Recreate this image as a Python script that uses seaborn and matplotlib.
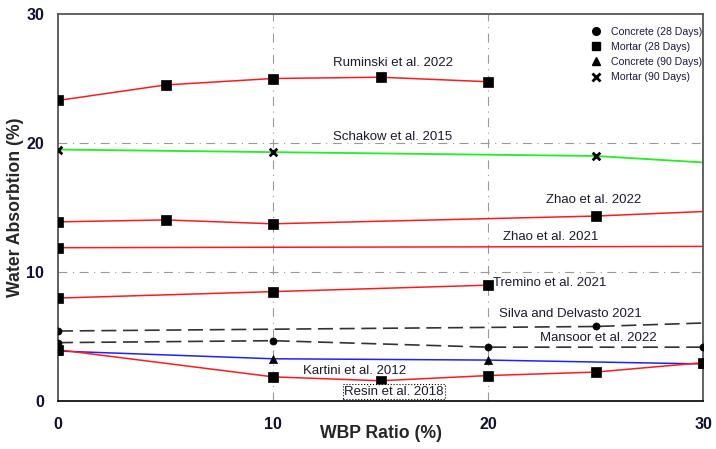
import numpy as np
import pandas as pd
import matplotlib.pyplot as plt
import seaborn as sns
from matplotlib.lines import Line2D

# data (x = WBP ratio %, y = water absorption %)

ruminski_x = [0, 5, 10, 15, 20]
ruminski_y = [23.3, 24.5, 25.0, 25.1, 24.75]

schakow_x = [0, 10, 25, 30]
schakow_y = [19.5, 19.3, 19.0, 18.5]
schakow_mx = [0, 10, 25]
schakow_my = [19.5, 19.3, 19.0]

zhao22_x = [0, 5, 10, 25, 30]
zhao22_y = [13.9, 14.05, 13.75, 14.35, 14.7]
zhao22_mx = [0, 5, 10, 25]
zhao22_my = [13.9, 14.05, 13.75, 14.35]

zhao21_x = [0, 30]
zhao21_y = [11.9, 12.0]
zhao21_mx = [0]
zhao21_my = [11.9]

tremino_x = [0, 10, 20]
tremino_y = [8.0, 8.5, 9.0]

silva_x = [0, 25, 30]
silva_y = [5.45, 5.8, 6.07]
silva_mx = [0, 25]
silva_my = [5.45, 5.8]

mansoor_x = [0, 10, 20, 30]
mansoor_y = [4.55, 4.7, 4.2, 4.2]

kartini_x = [0, 10, 20, 30]
kartini_y = [3.9, 3.3, 3.2, 2.9]

resin_x = [0, 10, 15, 20, 25, 30]
resin_y = [4.0, 1.9, 1.6, 2.0, 2.27, 3.0]

labels = ["Ruminski et al. 2022", "Schakow et al. 2015", "Zhao et al. 2022",
          "Zhao et al. 2021", "Tremino et al. 2021", "Silva and Delvasto 2021",
          "Mansoor et al. 2022", "Kartini et al. 2012", "Resin et al. 2018"]
label_x = [12.8, 12.8, 22.7, 20.7, 20.25, 20.5, 22.4, 11.4, 13.3]
label_y = [26.2, 20.5, 15.6, 12.75, 9.2, 6.77, 4.88, 2.37, 0.75]

legend_labels = ["Concrete (28 Days)", "Mortar (28 Days)",
                 "Concrete (90 Days)", "Mortar (90 Days)"]

sns.set_style("white")
plt.rcParams["font.family"] = ["Liberation Sans", "DejaVu Sans"]

fig = plt.figure(figsize=(7.16, 4.49), dpi=100)
ax = fig.add_axes([0.081, 0.106, 0.901, 0.863])

red = "#ff1a1a"
green = "#22ee22"
blue = "#2020ff"
dash = "#333333"

def line(xs, ys, color, ls="-", lw=1.1):
    sns.lineplot(x=xs, y=ys, color=color, linestyle=ls, linewidth=lw,
                 ax=ax, legend=False, zorder=2)

def marks(xs, ys, marker, size):
    if marker == "x":
        sns.scatterplot(x=xs, y=ys, marker="x", s=size, color="black",
                        linewidth=2, ax=ax, legend=False, zorder=4)
    else:
        sns.scatterplot(x=xs, y=ys, marker=marker, s=size, color="black",
                        edgecolor="black", linewidth=0.5, ax=ax,
                        legend=False, zorder=4)

SQ = 42

line(ruminski_x, ruminski_y, red)
marks(ruminski_x, ruminski_y, "s", SQ)

line(schakow_x, schakow_y, green, lw=1.3)
marks(schakow_mx, schakow_my, "x", 30)

line(zhao22_x, zhao22_y, red)
marks(zhao22_mx, zhao22_my, "s", SQ)

line(zhao21_x, zhao21_y, red)
marks(zhao21_mx, zhao21_my, "s", SQ)

line(tremino_x, tremino_y, red)
marks(tremino_x, tremino_y, "s", SQ)

line(silva_x, silva_y, dash, ls=(0, (9, 4)), lw=1.2)
marks(silva_mx, silva_my, "o", 26)

line(mansoor_x, mansoor_y, dash, ls=(0, (9, 4)), lw=1.2)
marks(mansoor_x, mansoor_y, "o", 26)

line(kartini_x, kartini_y, blue)
marks(kartini_x, kartini_y, "^", 34)

line(resin_x, resin_y, red)
marks(resin_x, resin_y, "s", SQ)

for i, txt in enumerate(labels):
    kw = dict(fontsize=9.5, color="#1a1a2e", ha="left", va="center", zorder=5)
    if txt.startswith("Resin"):
        kw["bbox"] = dict(boxstyle="square,pad=0.1", fc="white",
                          ec="black", ls=":", lw=0.8)
    ax.text(label_x[i], label_y[i], txt, **kw)

ax.set_xlim(0, 30)
ax.set_ylim(0, 30)
ax.set_xticks([0, 10, 20, 30])
ax.set_yticks([0, 10, 20, 30])
for v in [10, 20]:
    ax.axvline(v, color="#999999", lw=0.8, ls=(0, (8, 5, 1, 5)), zorder=1)
    ax.axhline(v, color="#999999", lw=0.8, ls=(0, (8, 5, 1, 5)), zorder=1)

ax.tick_params(axis="both", direction="out", length=6, width=1,
               colors="#333333", labelcolor="#101030", labelsize=11.5, pad=4)
ax.tick_params(axis="x", length=3, pad=8)
for t in ax.get_xticklabels() + ax.get_yticklabels():
    t.set_fontweight("bold")

for side in ["top", "right", "left"]:
    ax.spines[side].set_color("#555555")
    ax.spines[side].set_linewidth(1.3)
ax.spines["bottom"].set_color("black")
ax.spines["bottom"].set_linewidth(1.2)

ax.set_xlabel("WBP Ratio (%)", fontsize=12.7, fontweight="bold", labelpad=-5)
ax.set_ylabel("Water Absorbtion (%)", fontsize=12.7, fontweight="bold", labelpad=1.5)

handles = [
    Line2D([], [], ls="none", marker="o", color="black", markersize=5.5),
    Line2D([], [], ls="none", marker="s", color="black", markersize=6),
    Line2D([], [], ls="none", marker="^", color="black", markersize=6),
    Line2D([], [], ls="none", marker="x", color="black", markersize=5.5, mew=2),
]
leg = ax.legend(handles, legend_labels, loc="upper left",
                bbox_to_anchor=(0.82, 0.977), frameon=False, fontsize=7.6,
                labelspacing=0.48, handletextpad=0.9, borderaxespad=0,
                handlelength=1)
for t in leg.get_texts():
    t.set_color("#1a1a3e")

fig.savefig("out.png", dpi=100)
